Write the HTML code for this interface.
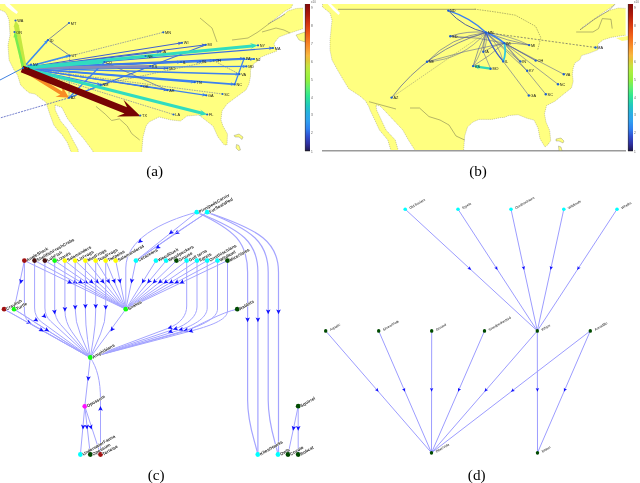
<!DOCTYPE html>
<html><head><meta charset="utf-8"><style>
html,body{margin:0;padding:0;background:#fff;width:640px;height:483px;overflow:hidden}
svg{display:block;will-change:transform}
</style></head><body>
<svg width="640" height="483" viewBox="0 0 640 483">
<defs><clipPath id="clipA"><rect x="0" y="4" width="303" height="148"/></clipPath><clipPath id="clipB"><rect x="322" y="4" width="303.6" height="146.6"/></clipPath><linearGradient id="turbo" x1="0" y1="1" x2="0" y2="0"><stop offset="0" stop-color="#201850"/><stop offset="0.048" stop-color="#3030a0"/><stop offset="0.1" stop-color="#3050d0"/><stop offset="0.15" stop-color="#3080f0"/><stop offset="0.205" stop-color="#30a0f0"/><stop offset="0.26" stop-color="#28b0e0"/><stop offset="0.308" stop-color="#20c8c0"/><stop offset="0.377" stop-color="#30e890"/><stop offset="0.43" stop-color="#60f070"/><stop offset="0.48" stop-color="#90f040"/><stop offset="0.534" stop-color="#a8f040"/><stop offset="0.58" stop-color="#c8e040"/><stop offset="0.617" stop-color="#e0c838"/><stop offset="0.65" stop-color="#f8b840"/><stop offset="0.72" stop-color="#f88a28"/><stop offset="0.788" stop-color="#f06018"/><stop offset="0.856" stop-color="#d83a10"/><stop offset="0.925" stop-color="#b01a0a"/><stop offset="1" stop-color="#800a0a"/></linearGradient></defs>
<g clip-path="url(#clipA)">
<polygon points="-2.0,2.0 293.0,2.0 293.0,4.0 291.0,8.0 285.0,11.0 280.0,15.0 275.0,19.0 268.0,24.0 281.0,17.0 288.0,11.0 296.0,8.5 305.0,8.0 305.0,28.0 296.0,31.0 287.0,34.0 279.0,37.0 275.0,42.0 274.0,44.0 277.0,51.0 266.0,55.0 260.0,57.6 258.3,60.7 253.6,63.8 250.5,70.0 250.5,76.2 249.0,84.0 246.0,90.0 235.0,98.0 227.0,104.0 222.0,111.0 221.0,120.0 223.0,126.0 227.5,134.0 227.0,145.0 224.0,144.7 218.0,137.0 213.0,126.0 204.0,119.0 199.0,115.0 187.0,116.0 180.6,121.0 171.0,120.0 159.0,117.0 149.0,122.0 146.0,126.0 143.0,137.0 141.5,154.0 93.0,154.0 78.0,154.0 72.0,154.0 70.0,149.2 67.3,142.5 61.9,134.4 57.9,130.4 53.8,125.0 49.8,114.2 45.8,102.0 42.0,99.5 35.0,94.0 29.5,93.0 25.6,90.0 20.6,85.0 17.5,75.0 14.0,70.0 9.0,60.0 8.0,45.0 10.0,35.0 9.0,20.0 7.0,15.0 5.0,12.0 -2.0,9.0" fill="#ffff80" stroke="#3a3a3a" stroke-width="0.45" stroke-opacity="0.55" stroke-dasharray="1.2,0.9"/>
<polygon points="4.0,2.0 7.5,2.0 18.0,12.0 16.5,14.0 12.0,11.0 6.0,6.0" fill="#fff" />
<polygon points="55.0,105.0 61.9,107.5 67.3,118.3 75.4,129.0 83.5,138.5 91.5,149.2 94.5,154.0 78.5,154.0 78.0,149.2 72.7,139.8 67.3,129.0 60.6,121.0 55.2,110.0" fill="#fff" stroke="#3a3a3a" stroke-width="0.45" stroke-opacity="0.55" stroke-dasharray="1.2,0.9"/>
</g>
<polygon points="616.0,38.0 628.0,36.0 628.0,40.0 622.0,41.0" fill="#ffff80" />
<g clip-path="url(#clipB)">
<polygon points="322.5,2.0 614.7,2.0 614.7,4.5 610.0,8.0 604.0,12.0 597.0,17.0 590.0,22.0 584.0,26.0 580.0,29.8 586.0,25.5 594.0,19.5 602.0,14.5 609.0,10.5 618.4,8.0 628.0,8.5 628.0,35.0 621.0,35.8 611.0,37.4 603.0,39.9 598.0,44.0 598.0,49.8 589.7,53.1 581.5,55.6 579.8,59.8 574.8,63.1 573.2,68.0 572.4,74.7 573.2,81.3 571.5,87.9 563.2,94.5 555.0,101.2 546.6,105.5 544.5,113.8 546.0,122.0 549.7,130.4 550.7,140.7 547.6,145.0 545.0,147.0 540.0,138.7 538.0,128.0 534.0,120.0 527.6,118.5 518.0,114.7 508.8,115.6 504.0,117.5 501.0,117.5 492.0,119.4 479.0,119.4 473.0,122.0 467.5,127.0 464.7,136.0 463.4,153.0 391.6,153.0 387.8,140.0 379.4,130.0 374.8,120.0 370.0,110.0 369.0,107.0 365.4,100.8 359.9,96.0 348.7,88.7 343.0,79.3 337.5,70.0 332.0,60.0 330.0,50.0 330.0,40.0 331.0,30.0 332.0,20.0 330.0,13.0 322.5,7.0" fill="#ffff80" stroke="#3a3a3a" stroke-width="0.45" stroke-opacity="0.55" stroke-dasharray="1.2,0.9"/>
<polygon points="326.0,2.0 329.0,2.0 340.0,13.0 338.5,15.0 333.0,10.0" fill="#fff" />
<polygon points="376.0,105.0 380.0,106.0 384.0,110.0 393.4,120.0 402.8,130.0 408.4,140.0 416.8,153.0 399.0,153.0 395.3,140.0 386.0,130.0 381.3,120.0 376.6,110.0" fill="#fff" stroke="#3a3a3a" stroke-width="0.45" stroke-opacity="0.55" stroke-dasharray="1.2,0.9"/>
</g>
<line x1="322" y1="150.8" x2="626" y2="150.8" stroke="#9a9a9a" stroke-width="1.5"/>
<polygon points="296.0,35.0 305.0,32.0 305.0,42.0 299.0,40.0" fill="#ffff80" stroke="#333" stroke-width="0.4" stroke-opacity="0.5"/>
<polygon points="234.0,135.5 239.0,134.0 243.0,137.0 242.0,139.5 239.0,137.0 235.0,137.0" fill="#ffff80" stroke="#333" stroke-width="0.4" stroke-opacity="0.6"/>
<polygon points="236.5,144.5 239.0,145.5 240.5,150.0 238.5,150.5 236.0,148.0" fill="#ffff80" stroke="#333" stroke-width="0.4" stroke-opacity="0.6"/>
<polygon points="556.0,139.0 561.0,138.0 564.0,141.0 563.0,143.0 559.0,141.0 556.0,141.0" fill="#ffff80" stroke="#333" stroke-width="0.4" stroke-opacity="0.6"/>
<polygon points="558.5,146.0 561.0,147.0 562.0,150.5 559.0,150.5" fill="#ffff80" stroke="#333" stroke-width="0.4" stroke-opacity="0.6"/>
<g fill="none" stroke="#505040" stroke-width="0.5" opacity="0.8">
<polyline points="96,106.4 105.3,114.2 111.6,120.5 119.4,118.9 127.2,126 131.9,133.8 139.7,140"/>
<polyline points="200,18 212,28 217,42"/>
<polyline points="232,40 248,38 258,32 270,23 285,14"/>
<polyline points="262,32 276,28 284,30 290,33"/>
</g>
<line x1="213.6" y1="60.6" x2="239.4" y2="74.2" stroke="#5060a8" stroke-width="0.55" stroke-dasharray="1.6,0.9"/>
<line x1="23.0" y1="68.0" x2="163.3" y2="32.3" stroke="#5060a8" stroke-width="0.55" stroke-dasharray="1.6,0.9"/>
<line x1="23.0" y1="68.0" x2="173.5" y2="114.5" stroke="#5060a8" stroke-width="0.55" stroke-dasharray="1.6,0.9"/>
<line x1="23.0" y1="68.0" x2="222.5" y2="94.0" stroke="#5060a8" stroke-width="0.55" stroke-dasharray="1.6,0.9"/>
<line x1="23.0" y1="68.0" x2="141.3" y2="86.0" stroke="#5060a8" stroke-width="0.55" stroke-dasharray="1.6,0.9"/>
<line x1="100.8" y1="84.7" x2="213.6" y2="60.6" stroke="#5060a8" stroke-width="0.55" stroke-dasharray="1.6,0.9"/>
<line x1="48.0" y1="40.0" x2="69.0" y2="23.0" stroke="#4858a8" stroke-width="0.7"/>
<line x1="48.0" y1="40.0" x2="69.7" y2="55.6" stroke="#4858a8" stroke-width="0.7"/>
<line x1="69.7" y1="55.6" x2="69" y2="97.8" stroke="#6070b0" stroke-width="0.7" stroke-dasharray="2,1"/>
<line x1="23" y1="68" x2="0" y2="80" stroke="#4080e0" stroke-width="1"/>
<line x1="69" y1="97.8" x2="0" y2="118" stroke="#5060c0" stroke-width="0.8" stroke-dasharray="2,1"/>
<line x1="23.0" y1="68.0" x2="48.0" y2="40.0" stroke="#3c8cf0" stroke-width="1.6"/>
<polygon points="48.0,40.0 46.6,44.1 45.9,42.4 44.0,41.8" fill="#3c8cf0"/>
<line x1="23.0" y1="68.0" x2="69.7" y2="55.6" stroke="#3c8cf0" stroke-width="1.6"/>
<polygon points="69.7,55.6 66.3,58.3 66.6,56.4 65.4,54.9" fill="#3c8cf0"/>
<line x1="23.0" y1="68.0" x2="145.6" y2="56.0" stroke="#3c78e0" stroke-width="1.2"/>
<polygon points="145.6,56.0 141.8,58.1 142.4,56.3 141.4,54.6" fill="#3c78e0"/>
<line x1="23.0" y1="68.0" x2="160.6" y2="51.6" stroke="#3c6cd8" stroke-width="1.2"/>
<polygon points="160.6,51.6 156.8,53.8 157.4,52.0 156.4,50.3" fill="#3c6cd8"/>
<line x1="23.0" y1="68.0" x2="205.8" y2="44.8" stroke="#4060d0" stroke-width="1.0"/>
<polygon points="205.8,44.8 202.1,47.0 202.6,45.2 201.6,43.6" fill="#4060d0"/>
<line x1="23.0" y1="68.0" x2="182.0" y2="42.8" stroke="#4060d0" stroke-width="1.0"/>
<polygon points="182.0,42.8 178.3,45.2 178.8,43.3 177.8,41.7" fill="#4060d0"/>
<line x1="23.0" y1="68.0" x2="273.0" y2="48.0" stroke="#3c6ce0" stroke-width="1.2"/>
<polygon points="273.0,48.0 269.2,50.1 269.8,48.3 268.9,46.6" fill="#3c6ce0"/>
<line x1="23.0" y1="68.0" x2="181.0" y2="62.0" stroke="#3c80f0" stroke-width="1.6"/>
<polygon points="181.0,62.0 177.1,63.9 177.8,62.1 176.9,60.4" fill="#3c80f0"/>
<line x1="23.0" y1="68.0" x2="200.3" y2="61.7" stroke="#3c70e0" stroke-width="1.2"/>
<polygon points="200.3,61.7 196.4,63.6 197.1,61.8 196.2,60.1" fill="#3c70e0"/>
<line x1="23.0" y1="68.0" x2="213.6" y2="60.6" stroke="#3c70e0" stroke-width="1.2"/>
<polygon points="213.6,60.6 209.7,62.5 210.4,60.7 209.5,59.0" fill="#3c70e0"/>
<line x1="23.0" y1="68.0" x2="244.0" y2="58.6" stroke="#3c70e0" stroke-width="1.6"/>
<polygon points="244.0,58.6 240.1,60.5 240.8,58.7 239.9,57.0" fill="#3c70e0"/>
<line x1="23.0" y1="68.0" x2="254.0" y2="59.0" stroke="#3c80f0" stroke-width="1.2"/>
<polygon points="254.0,59.0 250.1,60.9 250.8,59.1 249.9,57.4" fill="#3c80f0"/>
<line x1="23.0" y1="68.0" x2="167.5" y2="68.3" stroke="#4070d0" stroke-width="1.2"/>
<polygon points="167.5,68.3 163.5,70.0 164.3,68.3 163.5,66.5" fill="#4070d0"/>
<line x1="23.0" y1="68.0" x2="246.4" y2="66.4" stroke="#3c80f0" stroke-width="1.2"/>
<polygon points="246.4,66.4 242.4,68.2 243.2,66.4 242.4,64.7" fill="#3c80f0"/>
<line x1="23.0" y1="68.0" x2="239.4" y2="74.2" stroke="#3c80f0" stroke-width="1.6"/>
<polygon points="239.4,74.2 235.4,75.8 236.2,74.1 235.5,72.3" fill="#3c80f0"/>
<line x1="23.0" y1="68.0" x2="194.8" y2="82.2" stroke="#3c80f0" stroke-width="1.6"/>
<polygon points="194.8,82.2 190.7,83.6 191.6,81.9 191.0,80.1" fill="#3c80f0"/>
<line x1="23.0" y1="68.0" x2="234.7" y2="84.4" stroke="#3c80f0" stroke-width="1.6"/>
<polygon points="234.7,84.4 230.6,85.8 231.5,84.2 230.8,82.3" fill="#3c80f0"/>
<line x1="23.0" y1="68.0" x2="167.5" y2="90.2" stroke="#3c70e0" stroke-width="1.2"/>
<polygon points="167.5,90.2 163.3,91.3 164.3,89.7 163.8,87.9" fill="#3c70e0"/>
<line x1="23.0" y1="68.0" x2="206.3" y2="95.3" stroke="#3c80f0" stroke-width="1.2"/>
<polygon points="206.3,95.3 202.1,96.4 203.1,94.8 202.6,93.0" fill="#3c80f0"/>
<line x1="23.0" y1="68.0" x2="100.8" y2="84.7" stroke="#4080f0" stroke-width="1.2"/>
<polygon points="100.8,84.7 96.5,85.6 97.7,84.0 97.3,82.1" fill="#4080f0"/>
<line x1="23.0" y1="68.0" x2="31.0" y2="64.7" stroke="#3c80f0" stroke-width="1.2"/>
<polygon points="31.0,64.7 28.0,67.8 28.0,65.9 26.6,64.6" fill="#3c80f0"/>
<line x1="69.0" y1="97.8" x2="104.4" y2="62.0" stroke="#3c80f0" stroke-width="1.3"/>
<line x1="244.0" y1="58.6" x2="234.7" y2="84.4" stroke="#3c80f0" stroke-width="1.3"/>
<line x1="69.0" y1="97.8" x2="205.8" y2="44.8" stroke="#3c70e0" stroke-width="1.1"/>
<line x1="104.4" y1="62.0" x2="167.5" y2="90.2" stroke="#5060b0" stroke-width="0.7"/>
<line x1="69.0" y1="97.8" x2="100.8" y2="84.7" stroke="#3c80f0" stroke-width="1.0"/>
<line x1="23.0" y1="68.0" x2="150.3" y2="66.2" stroke="#8a8ab8" stroke-width="2.5"/>
<polygon points="26.5,66.6 19.0,26.0 19.5,25.9 15.5,20.5 13.6,26.9 14.1,26.9 21.5,67.4" fill="#c4e840"/>
<polygon points="24.2,66.7 16.9,36.6 17.9,36.3 14.5,32.0 13.5,37.4 14.5,37.2 21.8,67.3" fill="#78ec50"/>
<polygon points="23.1,69.5 101.5,63.7 99.6,64.9 104.4,62.0 99.2,59.9 101.3,60.7 22.9,66.5" fill="#30dcc0"/>
<polygon points="23.1,69.5 252.2,47.4 250.3,49.1 258.0,45.3 249.7,43.1 251.9,44.4 22.9,66.5" fill="#30dcc0"/>
<polygon points="22.6,69.6 201.0,114.6 198.6,115.7 207.2,114.5 200.2,109.4 201.8,111.5 23.4,66.4" fill="#30dcc0"/>
<polygon points="23.0,71.6 60.3,94.7 55.5,96.8 69.0,97.8 62.1,86.2 62.3,91.5 25.0,68.4" fill="#f88c24"/>
<polygon points="20.7,72.2 124.5,113.5 116.8,116.5 140.6,116.3 123.5,99.8 127.0,107.2 23.3,65.8" fill="#780404"/>
<circle cx="15.5" cy="20.5" r="1.1" fill="#1f5fcf"/>
<text x="17.3" y="22.0" font-family="Liberation Sans" font-size="3.8" fill="#151515">WA</text>
<circle cx="14.5" cy="32.0" r="1.1" fill="#1f5fcf"/>
<text x="16.3" y="33.5" font-family="Liberation Sans" font-size="3.8" fill="#151515">OR</text>
<circle cx="69.0" cy="23.0" r="1.1" fill="#1f5fcf"/>
<text x="70.8" y="24.5" font-family="Liberation Sans" font-size="3.8" fill="#151515">MT</text>
<circle cx="48.0" cy="40.0" r="1.1" fill="#1f5fcf"/>
<text x="49.8" y="41.5" font-family="Liberation Sans" font-size="3.8" fill="#151515">ID</text>
<circle cx="69.7" cy="55.6" r="1.1" fill="#1f5fcf"/>
<text x="71.5" y="57.1" font-family="Liberation Sans" font-size="3.8" fill="#151515">UT</text>
<circle cx="31.0" cy="64.7" r="1.1" fill="#1f5fcf"/>
<text x="32.8" y="66.2" font-family="Liberation Sans" font-size="3.8" fill="#151515">NV</text>
<circle cx="23.0" cy="68.0" r="1.1" fill="#1f5fcf"/>
<text x="24.8" y="69.5" font-family="Liberation Sans" font-size="3.8" fill="#151515">CA</text>
<circle cx="104.4" cy="62.0" r="1.1" fill="#1f5fcf"/>
<text x="106.2" y="63.5" font-family="Liberation Sans" font-size="3.8" fill="#151515">CO</text>
<circle cx="100.8" cy="84.7" r="1.1" fill="#1f5fcf"/>
<text x="102.6" y="86.2" font-family="Liberation Sans" font-size="3.8" fill="#151515">NM</text>
<circle cx="69.0" cy="97.8" r="1.1" fill="#1f5fcf"/>
<text x="70.8" y="99.3" font-family="Liberation Sans" font-size="3.8" fill="#151515">AZ</text>
<circle cx="163.3" cy="32.3" r="1.1" fill="#1f5fcf"/>
<text x="165.1" y="33.8" font-family="Liberation Sans" font-size="3.8" fill="#151515">MN</text>
<circle cx="182.0" cy="42.8" r="1.1" fill="#1f5fcf"/>
<text x="183.8" y="44.3" font-family="Liberation Sans" font-size="3.8" fill="#151515">WI</text>
<circle cx="160.6" cy="51.6" r="1.1" fill="#1f5fcf"/>
<text x="162.4" y="53.1" font-family="Liberation Sans" font-size="3.8" fill="#151515">IA</text>
<circle cx="145.6" cy="56.0" r="1.1" fill="#1f5fcf"/>
<text x="147.4" y="57.5" font-family="Liberation Sans" font-size="3.8" fill="#151515">NE</text>
<circle cx="150.3" cy="66.2" r="1.1" fill="#1f5fcf"/>
<text x="152.1" y="67.8" font-family="Liberation Sans" font-size="3.8" fill="#151515">KS</text>
<circle cx="167.5" cy="68.3" r="1.1" fill="#1f5fcf"/>
<text x="169.3" y="69.8" font-family="Liberation Sans" font-size="3.8" fill="#151515">MO</text>
<circle cx="181.0" cy="62.0" r="1.1" fill="#1f5fcf"/>
<text x="182.8" y="63.5" font-family="Liberation Sans" font-size="3.8" fill="#151515">IL</text>
<circle cx="194.8" cy="82.2" r="1.1" fill="#1f5fcf"/>
<text x="196.6" y="83.7" font-family="Liberation Sans" font-size="3.8" fill="#151515">TN</text>
<circle cx="141.3" cy="86.0" r="1.1" fill="#1f5fcf"/>
<text x="143.1" y="87.5" font-family="Liberation Sans" font-size="3.8" fill="#151515">OK</text>
<circle cx="167.5" cy="90.2" r="1.1" fill="#1f5fcf"/>
<text x="169.3" y="91.7" font-family="Liberation Sans" font-size="3.8" fill="#151515">AR</text>
<circle cx="205.8" cy="44.8" r="1.1" fill="#1f5fcf"/>
<text x="207.6" y="46.3" font-family="Liberation Sans" font-size="3.8" fill="#151515">MI</text>
<circle cx="258.0" cy="45.3" r="1.1" fill="#1f5fcf"/>
<text x="259.8" y="46.8" font-family="Liberation Sans" font-size="3.8" fill="#151515">NY</text>
<circle cx="273.0" cy="48.0" r="1.1" fill="#1f5fcf"/>
<text x="274.8" y="49.5" font-family="Liberation Sans" font-size="3.8" fill="#151515">MA</text>
<circle cx="200.3" cy="61.7" r="1.1" fill="#1f5fcf"/>
<text x="202.1" y="63.2" font-family="Liberation Sans" font-size="3.8" fill="#151515">IN</text>
<circle cx="213.6" cy="60.6" r="1.1" fill="#1f5fcf"/>
<text x="215.4" y="62.1" font-family="Liberation Sans" font-size="3.8" fill="#151515">OH</text>
<circle cx="244.0" cy="58.6" r="1.1" fill="#1f5fcf"/>
<text x="245.8" y="60.1" font-family="Liberation Sans" font-size="3.8" fill="#151515">PA</text>
<circle cx="254.0" cy="59.0" r="1.1" fill="#1f5fcf"/>
<text x="255.8" y="60.5" font-family="Liberation Sans" font-size="3.8" fill="#151515">NJ</text>
<circle cx="246.4" cy="66.4" r="1.1" fill="#1f5fcf"/>
<text x="248.2" y="67.9" font-family="Liberation Sans" font-size="3.8" fill="#151515">MD</text>
<circle cx="239.4" cy="74.2" r="1.1" fill="#1f5fcf"/>
<text x="241.2" y="75.7" font-family="Liberation Sans" font-size="3.8" fill="#151515">VA</text>
<circle cx="234.7" cy="84.4" r="1.1" fill="#1f5fcf"/>
<text x="236.5" y="85.9" font-family="Liberation Sans" font-size="3.8" fill="#151515">NC</text>
<circle cx="222.5" cy="94.0" r="1.1" fill="#1f5fcf"/>
<text x="224.3" y="95.5" font-family="Liberation Sans" font-size="3.8" fill="#151515">SC</text>
<circle cx="206.3" cy="95.3" r="1.1" fill="#1f5fcf"/>
<text x="208.1" y="96.8" font-family="Liberation Sans" font-size="3.8" fill="#151515">GA</text>
<circle cx="140.3" cy="115.5" r="1.1" fill="#1f5fcf"/>
<text x="142.1" y="117.0" font-family="Liberation Sans" font-size="3.8" fill="#151515">TX</text>
<circle cx="173.5" cy="114.5" r="1.1" fill="#1f5fcf"/>
<text x="175.3" y="116.0" font-family="Liberation Sans" font-size="3.8" fill="#151515">LA</text>
<circle cx="207.2" cy="114.5" r="1.1" fill="#1f5fcf"/>
<text x="209.0" y="116.0" font-family="Liberation Sans" font-size="3.8" fill="#151515">FL</text>
<g fill="none" stroke="#505040" stroke-width="0.5" opacity="0.85">
<polyline points="474.7,9.1 497,12.2 515.4,15.2 535.7,26.4 540.8,37.6 537.7,49.8" stroke-dasharray="1.5,1"/>
<polyline points="580,29.8 586,25.5 594,19.5 602,14.5 609,10.5 614.7,4.5"/>
<polyline points="576.2,32 593,32 598.5,28.6 602.3,18.6 611,19.3 612.2,28.6"/>
<polyline points="369,101.7 396,109"/>
<polyline points="410,108 419.5,108 429,116.6 440,120 449,125 456,136 464.7,140"/>
</g>
<line x1="338" y1="9.3" x2="476" y2="9.3" stroke="#9c9c60" stroke-width="0.9"/>
<path d="M485.9,32.5 Q467.7,30.4 450.3,36.2" fill="none" stroke="#505a98" stroke-width="0.6"/>
<path d="M485.9,32.5 Q468.7,40.3 450.3,36.2" fill="none" stroke="#505a98" stroke-width="0.5"/>
<path d="M485.9,32.5 Q451.1,36.4 427.0,61.8" fill="none" stroke="#505a98" stroke-width="0.6"/>
<path d="M485.9,32.5 Q462.7,59.7 427.0,61.8" fill="none" stroke="#505a98" stroke-width="0.5"/>
<path d="M485.9,32.5 Q483.6,42.0 483.3,51.8" fill="none" stroke="#505a98" stroke-width="0.6"/>
<path d="M485.9,32.5 Q487.6,42.6 483.3,51.8" fill="none" stroke="#505a98" stroke-width="0.5"/>
<path d="M485.9,32.5 Q507.0,40.7 529.2,45.1" fill="none" stroke="#505a98" stroke-width="0.6"/>
<path d="M485.9,32.5 Q508.7,35.0 529.2,45.1" fill="none" stroke="#505a98" stroke-width="0.5"/>
<path d="M485.9,32.5 Q477.6,48.6 473.1,66.1" fill="none" stroke="#505a98" stroke-width="0.6"/>
<path d="M485.9,32.5 Q483.2,50.7 473.1,66.1" fill="none" stroke="#505a98" stroke-width="0.5"/>
<path d="M485.9,32.5 Q492.0,48.5 503.2,61.4" fill="none" stroke="#505a98" stroke-width="0.6"/>
<path d="M485.9,32.5 Q498.8,44.4 503.2,61.4" fill="none" stroke="#505a98" stroke-width="0.5"/>
<path d="M485.9,32.5 Q506.6,51.6 527.2,70.7" fill="none" stroke="#505a98" stroke-width="0.55"/>
<path d="M485.9,32.5 Q510.8,46.5 535.7,60.6" fill="none" stroke="#505a98" stroke-width="0.55"/>
<path d="M485.9,32.5 Q503.1,47.0 520.4,61.4" fill="none" stroke="#505a98" stroke-width="0.55"/>
<path d="M504.2,43.1 Q477.6,36.7 450.3,36.2" fill="none" stroke="#505a98" stroke-width="0.55"/>
<path d="M504.2,43.1 Q465.1,50.5 427.0,61.8" fill="none" stroke="#505a98" stroke-width="0.55"/>
<path d="M504.2,43.1 Q516.8,43.1 529.2,45.1" fill="none" stroke="#505a98" stroke-width="0.55"/>
<path d="M504.2,43.1 Q493.0,45.6 483.3,51.8" fill="none" stroke="#505a98" stroke-width="0.55"/>
<path d="M504.2,43.1 Q489.8,56.2 473.1,66.1" fill="none" stroke="#505a98" stroke-width="0.55"/>
<path d="M504.2,43.1 Q534.0,58.7 563.8,74.3" fill="none" stroke="#505a98" stroke-width="0.55"/>
<path d="M504.2,43.1 Q531.1,63.7 558.0,84.3" fill="none" stroke="#505a98" stroke-width="0.55"/>
<path d="M504.2,43.1 Q525.0,68.7 545.8,94.3" fill="none" stroke="#505a98" stroke-width="0.55"/>
<path d="M504.2,43.1 Q512.3,52.2 520.4,61.4" fill="none" stroke="#505a98" stroke-width="0.55"/>
<path d="M504.2,43.1 Q520.0,51.9 535.7,60.6" fill="none" stroke="#505a98" stroke-width="0.55"/>
<path d="M485.9,32.5 Q428.0,49.4 391.6,97.6" fill="none" stroke="#505a98" stroke-width="0.7"/>
<path d="M485.9,32.5 Q438.8,65.0 391.6,97.6" fill="none" stroke="#7a7a70" stroke-width="0.5" stroke-dasharray="1.5,1"/>
<path d="M485.9,32.5 Q540.7,40.0 595.5,47.5" fill="none" stroke="#5a5a60" stroke-width="0.7" stroke-dasharray="2,1.5"/>
<path d="M485.9,32.5 Q463.6,27.6 448.3,10.6" fill="none" stroke="#4050a0" stroke-width="0.9"/>
<path d="M485.9,32.5 Q469.6,17.2 448.3,10.6" fill="none" stroke="#3c80f0" stroke-width="1.5"/>
<path d="M485.9,32.5 Q496.1,36.1 504.2,43.1" fill="none" stroke="#3c80f0" stroke-width="1.8"/>
<path d="M485.9,32.5 Q492.0,48.5 503.2,61.4" fill="none" stroke="#4060c8" stroke-width="1.2"/>
<path d="M504.2,43.1 Q506.7,52.4 503.2,61.4" fill="none" stroke="#30c8e0" stroke-width="1.8"/>
<path d="M483.3,51.8 Q487.0,60.2 490.6,68.7" fill="none" stroke="#505a98" stroke-width="0.5"/>
<path d="M503.2,61.4 Q516.0,78.5 528.8,95.5" fill="none" stroke="#505a98" stroke-width="0.55"/>
<polygon points="490.8,67.6 478.2,65.7 480.4,64.4 473.1,66.1 479.6,69.8 477.9,67.9 490.4,69.8" fill="#30d8b8"/>
<circle cx="448.3" cy="10.6" r="1.2" fill="#1f5fcf"/>
<text x="450.1" y="12.1" font-family="Liberation Sans" font-size="3.8" fill="#151515">ND</text>
<circle cx="485.9" cy="32.5" r="1.2" fill="#1f5fcf"/>
<text x="487.7" y="34.0" font-family="Liberation Sans" font-size="3.8" fill="#151515">MN</text>
<circle cx="450.3" cy="36.2" r="1.2" fill="#1f5fcf"/>
<text x="452.1" y="37.7" font-family="Liberation Sans" font-size="3.8" fill="#151515">SD</text>
<circle cx="504.2" cy="43.1" r="1.2" fill="#1f5fcf"/>
<text x="506.0" y="44.6" font-family="Liberation Sans" font-size="3.8" fill="#151515">WI</text>
<circle cx="529.2" cy="45.1" r="1.2" fill="#1f5fcf"/>
<text x="531.0" y="46.6" font-family="Liberation Sans" font-size="3.8" fill="#151515">MI</text>
<circle cx="483.3" cy="51.8" r="1.2" fill="#1f5fcf"/>
<text x="485.1" y="53.3" font-family="Liberation Sans" font-size="3.8" fill="#151515">IA</text>
<circle cx="503.2" cy="61.4" r="1.2" fill="#1f5fcf"/>
<text x="505.0" y="62.9" font-family="Liberation Sans" font-size="3.8" fill="#151515">IL</text>
<circle cx="520.4" cy="61.4" r="1.2" fill="#1f5fcf"/>
<text x="522.2" y="62.9" font-family="Liberation Sans" font-size="3.8" fill="#151515">IN</text>
<circle cx="535.7" cy="60.6" r="1.2" fill="#1f5fcf"/>
<text x="537.5" y="62.1" font-family="Liberation Sans" font-size="3.8" fill="#151515">OH</text>
<circle cx="527.2" cy="70.7" r="1.2" fill="#1f5fcf"/>
<text x="529.0" y="72.2" font-family="Liberation Sans" font-size="3.8" fill="#151515">KY</text>
<circle cx="473.1" cy="66.1" r="1.2" fill="#1f5fcf"/>
<text x="474.9" y="67.6" font-family="Liberation Sans" font-size="3.8" fill="#151515">KS</text>
<circle cx="490.6" cy="68.7" r="1.2" fill="#1f5fcf"/>
<text x="492.4" y="70.2" font-family="Liberation Sans" font-size="3.8" fill="#151515">MO</text>
<circle cx="427.0" cy="61.8" r="1.2" fill="#1f5fcf"/>
<text x="428.8" y="63.2" font-family="Liberation Sans" font-size="3.8" fill="#151515">NE</text>
<circle cx="391.6" cy="97.6" r="1.2" fill="#1f5fcf"/>
<text x="393.4" y="99.1" font-family="Liberation Sans" font-size="3.8" fill="#151515">AZ</text>
<circle cx="595.5" cy="47.5" r="1.2" fill="#1f5fcf"/>
<text x="597.3" y="49.0" font-family="Liberation Sans" font-size="3.8" fill="#151515">MA</text>
<circle cx="563.8" cy="74.3" r="1.2" fill="#1f5fcf"/>
<text x="565.6" y="75.8" font-family="Liberation Sans" font-size="3.8" fill="#151515">VA</text>
<circle cx="558.0" cy="84.3" r="1.2" fill="#1f5fcf"/>
<text x="559.8" y="85.8" font-family="Liberation Sans" font-size="3.8" fill="#151515">NC</text>
<circle cx="528.8" cy="95.5" r="1.2" fill="#1f5fcf"/>
<text x="530.6" y="97.0" font-family="Liberation Sans" font-size="3.8" fill="#151515">GA</text>
<circle cx="545.8" cy="94.3" r="1.2" fill="#1f5fcf"/>
<text x="547.6" y="95.8" font-family="Liberation Sans" font-size="3.8" fill="#151515">SC</text>
<line x1="24.4" y1="260.6" x2="125.8" y2="309.2" stroke="#a4a4ff" stroke-width="1.0"/>
<polygon points="72.2,283.5 66.8,283.5 68.7,281.8 68.8,279.3" fill="#1010ff"/>
<line x1="34.6" y1="260.6" x2="125.8" y2="309.2" stroke="#a4a4ff" stroke-width="1.0"/>
<polygon points="77.6,283.5 72.2,283.3 74.2,281.7 74.4,279.2" fill="#1010ff"/>
<line x1="44.9" y1="260.6" x2="125.8" y2="309.2" stroke="#a4a4ff" stroke-width="1.0"/>
<polygon points="83.0,283.5 77.7,283.0 79.7,281.5 80.1,279.0" fill="#1010ff"/>
<line x1="54.7" y1="260.6" x2="125.8" y2="309.2" stroke="#a4a4ff" stroke-width="1.0"/>
<polygon points="88.2,283.5 82.9,282.7 85.1,281.3 85.5,278.9" fill="#1010ff"/>
<line x1="64.9" y1="260.6" x2="125.8" y2="309.2" stroke="#a4a4ff" stroke-width="1.0"/>
<polygon points="93.6,283.5 88.4,282.3 90.6,281.1 91.3,278.7" fill="#1010ff"/>
<line x1="75.2" y1="260.6" x2="125.8" y2="309.2" stroke="#a4a4ff" stroke-width="1.0"/>
<polygon points="99.0,283.5 94.0,281.8 96.3,280.9 97.2,278.5" fill="#1010ff"/>
<line x1="85.4" y1="260.6" x2="125.8" y2="309.2" stroke="#a4a4ff" stroke-width="1.0"/>
<polygon points="104.4,283.5 99.6,281.3 102.0,280.6 103.1,278.3" fill="#1010ff"/>
<line x1="95.7" y1="260.6" x2="125.8" y2="309.2" stroke="#a4a4ff" stroke-width="1.0"/>
<polygon points="109.9,283.5 105.4,280.6 107.9,280.3 109.3,278.2" fill="#1010ff"/>
<line x1="105.7" y1="260.6" x2="125.8" y2="309.2" stroke="#a4a4ff" stroke-width="1.0"/>
<polygon points="115.2,283.5 111.2,279.9 113.7,280.0 115.5,278.2" fill="#1010ff"/>
<line x1="115.7" y1="260.6" x2="125.8" y2="309.2" stroke="#a4a4ff" stroke-width="1.0"/>
<polygon points="120.5,283.5 117.2,279.3 119.7,279.8 121.7,278.3" fill="#1010ff"/>
<line x1="136.0" y1="260.6" x2="125.8" y2="309.2" stroke="#a4a4ff" stroke-width="1.0"/>
<polygon points="131.2,283.5 129.9,278.3 132.0,279.8 134.4,279.3" fill="#1010ff"/>
<line x1="156.0" y1="260.6" x2="125.8" y2="309.2" stroke="#a4a4ff" stroke-width="1.0"/>
<polygon points="141.8,283.5 142.4,278.2 143.8,280.3 146.3,280.6" fill="#1010ff"/>
<line x1="166.2" y1="260.6" x2="125.8" y2="309.2" stroke="#a4a4ff" stroke-width="1.0"/>
<polygon points="147.2,283.5 148.5,278.3 149.6,280.6 152.0,281.3" fill="#1010ff"/>
<line x1="176.5" y1="260.6" x2="125.8" y2="309.2" stroke="#a4a4ff" stroke-width="1.0"/>
<polygon points="152.6,283.5 154.5,278.5 155.4,280.9 157.7,281.8" fill="#1010ff"/>
<line x1="186.7" y1="260.6" x2="125.8" y2="309.2" stroke="#a4a4ff" stroke-width="1.0"/>
<polygon points="158.0,283.5 160.3,278.7 161.0,281.1 163.2,282.3" fill="#1010ff"/>
<line x1="197.0" y1="260.6" x2="125.8" y2="309.2" stroke="#a4a4ff" stroke-width="1.0"/>
<polygon points="163.5,283.5 166.1,278.9 166.6,281.3 168.7,282.7" fill="#1010ff"/>
<line x1="207.2" y1="260.6" x2="125.8" y2="309.2" stroke="#a4a4ff" stroke-width="1.0"/>
<polygon points="168.9,283.5 171.8,279.1 172.1,281.5 174.2,283.0" fill="#1010ff"/>
<line x1="217.5" y1="260.6" x2="125.8" y2="309.2" stroke="#a4a4ff" stroke-width="1.0"/>
<polygon points="174.3,283.5 177.5,279.2 177.7,281.7 179.6,283.3" fill="#1010ff"/>
<line x1="227.5" y1="260.6" x2="125.8" y2="309.2" stroke="#a4a4ff" stroke-width="1.0"/>
<polygon points="179.6,283.5 182.9,279.3 183.0,281.9 184.9,283.5" fill="#1010ff"/>
<path d="M24.4,260.6 L24.4,311.0 Q24.4,320.0 32.2,324.5 L90.3,357.5" fill="none" stroke="#a4a4ff" stroke-width="1.0"/>
<polygon points="31.3,324.0 26.0,323.6 28.0,322.1 28.3,319.6" fill="#1010ff"/>
<path d="M34.6,260.6 L34.6,308.0 Q34.6,317.0 41.9,322.3 L90.3,357.5" fill="none" stroke="#a4a4ff" stroke-width="1.0"/>
<polygon points="38.3,321.5 33.0,320.7 35.2,319.3 35.7,316.9" fill="#1010ff"/>
<path d="M44.9,260.6 L44.9,308.0 Q44.9,316.0 50.8,321.4 L90.3,357.5" fill="none" stroke="#a4a4ff" stroke-width="1.0"/>
<polygon points="46.3,318.0 41.2,316.5 43.5,315.5 44.3,313.1" fill="#1010ff"/>
<path d="M54.7,260.6 L54.7,309.0 Q54.7,318.0 60.7,324.7 L90.3,357.5" fill="none" stroke="#a4a4ff" stroke-width="1.0"/>
<polygon points="54.9,314.5 52.0,310.0 54.4,310.7 56.6,309.5" fill="#1010ff"/>
<path d="M64.9,260.6 L64.9,310.0 Q64.9,322.0 71.9,331.8 L90.3,357.5" fill="none" stroke="#a4a4ff" stroke-width="1.0"/>
<polygon points="64.9,311.8 62.6,307.0 64.9,308.0 67.2,307.0" fill="#1010ff"/>
<path d="M75.2,260.6 L75.2,309.0 Q75.2,322.0 80.3,334.0 L90.3,357.5" fill="none" stroke="#a4a4ff" stroke-width="1.0"/>
<polygon points="75.2,309.8 72.9,305.0 75.2,306.0 77.5,305.0" fill="#1010ff"/>
<path d="M85.4,260.6 L85.4,310.0 Q85.4,325.0 87.6,339.8 L90.3,357.5" fill="none" stroke="#a4a4ff" stroke-width="1.0"/>
<polygon points="85.4,308.7 83.1,303.9 85.4,304.9 87.7,303.9" fill="#1010ff"/>
<path d="M95.7,260.6 L95.7,310.0 Q95.7,325.0 93.2,339.8 L90.3,357.5" fill="none" stroke="#a4a4ff" stroke-width="1.0"/>
<polygon points="95.7,308.7 93.4,303.9 95.7,304.9 98.0,303.9" fill="#1010ff"/>
<path d="M105.7,260.6 L105.7,309.0 Q105.7,322.0 100.5,333.9 L90.3,357.5" fill="none" stroke="#a4a4ff" stroke-width="1.0"/>
<polygon points="105.7,309.8 103.4,305.0 105.7,306.0 108.0,305.0" fill="#1010ff"/>
<line x1="4.1" y1="309.2" x2="90.3" y2="357.5" stroke="#a4a4ff" stroke-width="1.0"/>
<line x1="5.1" y1="309.7" x2="90.3" y2="357.5" stroke="#a4a4ff" stroke-width="0.8"/>
<polygon points="43.8,331.4 38.4,331.1 40.4,329.6 40.7,327.1" fill="#1010ff"/>
<line x1="14.1" y1="309.2" x2="90.3" y2="357.5" stroke="#a4a4ff" stroke-width="1.0"/>
<line x1="15.1" y1="309.7" x2="90.3" y2="357.5" stroke="#a4a4ff" stroke-width="0.8"/>
<polygon points="49.2,331.4 43.9,330.8 45.9,329.4 46.3,326.9" fill="#1010ff"/>
<line x1="24.4" y1="260.6" x2="14.1" y2="309.2" stroke="#a4a4ff" stroke-width="1.0"/>
<polygon points="20.5,284.0 19.2,278.8 21.3,280.3 23.7,279.8" fill="#1010ff"/>
<path d="M186.7,260.6 L186.7,306.0 C186.7,315.0 181.4,323.3 167.6,328.5 L90.3,357.5" fill="none" stroke="#a4a4ff" stroke-width="1.0"/>
<polygon points="167.6,328.5 171.3,324.7 171.2,327.2 172.9,329.0" fill="#1010ff"/>
<path d="M197.0,260.6 L197.0,307.0 C197.0,316.0 188.6,324.3 173.0,329.6 L90.3,357.5" fill="none" stroke="#a4a4ff" stroke-width="1.0"/>
<polygon points="173.0,329.6 176.8,325.9 176.6,328.4 178.3,330.2" fill="#1010ff"/>
<path d="M207.2,260.6 L207.2,308.0 C207.2,317.0 195.9,324.9 178.5,330.3 L90.3,357.5" fill="none" stroke="#a4a4ff" stroke-width="1.0"/>
<polygon points="178.5,330.3 182.4,326.7 182.1,329.2 183.8,331.1" fill="#1010ff"/>
<path d="M217.5,260.6 L217.5,309.0 C217.5,318.0 202.9,325.4 183.4,331.0 L90.3,357.5" fill="none" stroke="#a4a4ff" stroke-width="1.0"/>
<polygon points="183.4,331.0 187.4,327.5 187.1,330.0 188.6,331.9" fill="#1010ff"/>
<path d="M227.5,260.6 L227.5,311.0 C227.5,320.0 209.7,326.1 188.3,331.7 L90.3,357.5" fill="none" stroke="#a4a4ff" stroke-width="1.0"/>
<polygon points="188.3,331.7 192.4,328.3 192.0,330.7 193.5,332.7" fill="#1010ff"/>
<path d="M237.3,309.2 C222,312 200,325 186,331 L90.3,357.5" fill="none" stroke="#a4a4ff" stroke-width="1.0"/>
<polygon points="168.0,332.5 171.7,328.7 171.6,331.2 173.3,333.0" fill="#1010ff"/>
<line x1="125.8" y1="309.2" x2="90.3" y2="357.5" stroke="#a4a4ff" stroke-width="1.0"/>
<polygon points="110.5,331.5 111.5,326.3 112.8,328.4 115.2,329.0" fill="#1010ff"/>
<line x1="196.8" y1="212.2" x2="136.0" y2="260.6" stroke="#a4a4ff" stroke-width="1.0"/>
<polygon points="168.9,234.2 171.2,229.4 171.9,231.8 174.1,233.0" fill="#1010ff"/>
<line x1="207.2" y1="212.2" x2="136.0" y2="260.6" stroke="#a4a4ff" stroke-width="1.0"/>
<polygon points="174.6,234.2 177.3,229.6 177.7,232.1 179.9,233.4" fill="#1010ff"/>
<path d="M207.2,212.2 Q170,236 136,261" fill="none" stroke="#a4a4ff" stroke-width="1.0"/>
<polygon points="155.6,248.7 158.3,244.1 158.8,246.6 160.9,248.0" fill="#1010ff"/>
<path d="M196.8,212.2 C160,222 126,240 125.8,268 L125.8,309.2" fill="none" stroke="#a4a4ff" stroke-width="1.0"/>
<polygon points="138.0,243.0 140.3,238.2 141.0,240.6 143.2,241.8" fill="#1010ff"/>
<path d="M196.8,212.2 C234.9,230.2 247.6,242.2 247.6,272.2 L247.6,400 C247.6,425 254.8,440 257.8,454.5" fill="none" stroke="#a4a4ff" stroke-width="1.2"/>
<polygon points="247.6,322.3 245.3,317.5 247.6,318.5 249.9,317.5" fill="#1010ff"/>
<path d="M196.8,212.2 C242.6,230.2 257.9,242.2 257.9,272.2 L257.9,454.5" fill="none" stroke="#a4a4ff" stroke-width="1.2"/>
<polygon points="257.9,322.3 255.6,317.5 257.9,318.5 260.2,317.5" fill="#1010ff"/>
<path d="M207.2,212.2 C252.9,230.2 268.2,242.2 268.2,272.2 L268.2,400 C268.2,425 275.0,440 278.0,454.5" fill="none" stroke="#a4a4ff" stroke-width="1.2"/>
<polygon points="268.2,314.3 265.9,309.5 268.2,310.5 270.5,309.5" fill="#1010ff"/>
<path d="M207.2,212.2 C260.7,230.2 278.5,242.2 278.5,272.2 L278.5,454.5" fill="none" stroke="#a4a4ff" stroke-width="1.2"/>
<polygon points="278.5,314.3 276.2,309.5 278.5,310.5 280.8,309.5" fill="#1010ff"/>
<line x1="90.3" y1="357.5" x2="84.8" y2="406.3" stroke="#a4a4ff" stroke-width="1.0"/>
<polygon points="88.0,381.0 86.3,376.0 88.4,377.2 90.8,376.5" fill="#1010ff"/>
<path d="M100.5,454.5 L100.5,400 C100.5,380 97,368 90.3,357.5" fill="none" stroke="#a4a4ff" stroke-width="1.0"/>
<polygon points="100.5,406.0 102.8,410.8 100.5,409.8 98.2,410.8" fill="#1010ff"/>
<line x1="84.8" y1="406.3" x2="80.4" y2="454.5" stroke="#a4a4ff" stroke-width="1.0"/>
<polygon points="82.9,429.5 81.0,424.5 83.2,425.7 85.6,424.9" fill="#1010ff"/>
<line x1="84.8" y1="406.3" x2="90.3" y2="454.5" stroke="#a4a4ff" stroke-width="1.0"/>
<polygon points="87.2,429.5 84.4,425.0 86.8,425.7 89.0,424.5" fill="#1010ff"/>
<line x1="84.8" y1="406.3" x2="100.5" y2="454.5" stroke="#a4a4ff" stroke-width="1.0"/>
<polygon points="91.7,429.5 88.0,425.7 90.5,425.9 92.4,424.2" fill="#1010ff"/>
<line x1="298.2" y1="406.2" x2="288.0" y2="454.5" stroke="#a4a4ff" stroke-width="1.0"/>
<polygon points="293.0,430.8 291.7,425.7 293.8,427.1 296.2,426.6" fill="#1010ff"/>
<line x1="298.2" y1="406.2" x2="298.2" y2="454.5" stroke="#a4a4ff" stroke-width="1.0"/>
<polygon points="298.2,430.8 295.9,426.0 298.2,427.0 300.5,426.0" fill="#1010ff"/>
<circle cx="24.4" cy="260.6" r="2.4" fill="#a01010"/>
<text transform="translate(27.4,261.8) rotate(-30)" font-family="Liberation Sans" font-size="4.4" font-weight="bold" fill="#333" stroke="#fff" stroke-width="0.7" paint-order="stroke">AngleShark</text>
<circle cx="34.6" cy="260.6" r="2.4" fill="#4a0e0e"/>
<text transform="translate(37.6,261.8) rotate(-30)" font-family="Liberation Sans" font-size="4.4" font-weight="bold" fill="#333" stroke="#fff" stroke-width="0.7" paint-order="stroke">ShellfishFreshCrabs</text>
<circle cx="44.9" cy="260.6" r="2.4" fill="#4a0e0e"/>
<text transform="translate(47.9,261.8) rotate(-30)" font-family="Liberation Sans" font-size="4.4" font-weight="bold" fill="#333" stroke="#fff" stroke-width="0.7" paint-order="stroke">LobFish</text>
<circle cx="54.7" cy="260.6" r="2.4" fill="#10ff10"/>
<text transform="translate(57.7,261.8) rotate(-30)" font-family="Liberation Sans" font-size="4.4" font-weight="bold" fill="#333" stroke="#fff" stroke-width="0.7" paint-order="stroke">Lizards</text>
<circle cx="64.9" cy="260.6" r="2.4" fill="#ffff00"/>
<text transform="translate(67.9,261.8) rotate(-30)" font-family="Liberation Sans" font-size="4.4" font-weight="bold" fill="#333" stroke="#fff" stroke-width="0.7" paint-order="stroke">Salamanders</text>
<circle cx="75.2" cy="260.6" r="2.4" fill="#ffff00"/>
<text transform="translate(78.2,261.8) rotate(-30)" font-family="Liberation Sans" font-size="4.4" font-weight="bold" fill="#333" stroke="#fff" stroke-width="0.7" paint-order="stroke">LizFrogs</text>
<circle cx="85.4" cy="260.6" r="2.4" fill="#ffff00"/>
<text transform="translate(88.4,261.8) rotate(-30)" font-family="Liberation Sans" font-size="4.4" font-weight="bold" fill="#333" stroke="#fff" stroke-width="0.7" paint-order="stroke">MudFrogs</text>
<circle cx="95.7" cy="260.6" r="2.4" fill="#ffff00"/>
<text transform="translate(98.7,261.8) rotate(-30)" font-family="Liberation Sans" font-size="4.4" font-weight="bold" fill="#333" stroke="#fff" stroke-width="0.7" paint-order="stroke">ToadFrogs</text>
<circle cx="105.7" cy="260.6" r="2.4" fill="#ffff00"/>
<text transform="translate(108.7,261.8) rotate(-30)" font-family="Liberation Sans" font-size="4.4" font-weight="bold" fill="#333" stroke="#fff" stroke-width="0.7" paint-order="stroke">Tadpoles</text>
<circle cx="115.7" cy="260.6" r="2.4" fill="#ffff00"/>
<text transform="translate(118.7,261.8) rotate(-30)" font-family="Liberation Sans" font-size="4.4" font-weight="bold" fill="#333" stroke="#fff" stroke-width="0.7" paint-order="stroke">Salamanders4</text>
<circle cx="136.0" cy="260.6" r="2.4" fill="#00ffff"/>
<text transform="translate(139.0,261.8) rotate(-30)" font-family="Liberation Sans" font-size="4.4" font-weight="bold" fill="#333" stroke="#fff" stroke-width="0.7" paint-order="stroke">Cetaceans</text>
<circle cx="156.0" cy="260.6" r="2.4" fill="#00ffff"/>
<text transform="translate(159.0,261.8) rotate(-30)" font-family="Liberation Sans" font-size="4.4" font-weight="bold" fill="#333" stroke="#fff" stroke-width="0.7" paint-order="stroke">WoodDuck</text>
<circle cx="166.2" cy="260.6" r="2.4" fill="#00ffff"/>
<text transform="translate(169.2,261.8) rotate(-30)" font-family="Liberation Sans" font-size="4.4" font-weight="bold" fill="#333" stroke="#fff" stroke-width="0.7" paint-order="stroke">Woodpeckers</text>
<circle cx="176.5" cy="260.6" r="2.4" fill="#004a00"/>
<text transform="translate(179.5,261.8) rotate(-30)" font-family="Liberation Sans" font-size="4.4" font-weight="bold" fill="#333" stroke="#fff" stroke-width="0.7" paint-order="stroke">Grouse</text>
<circle cx="186.7" cy="260.6" r="2.4" fill="#00ffff"/>
<text transform="translate(189.7,261.8) rotate(-30)" font-family="Liberation Sans" font-size="4.4" font-weight="bold" fill="#333" stroke="#fff" stroke-width="0.7" paint-order="stroke">Gull terns</text>
<circle cx="197.0" cy="260.6" r="2.4" fill="#00ffff"/>
<text transform="translate(200.0,261.8) rotate(-30)" font-family="Liberation Sans" font-size="4.4" font-weight="bold" fill="#333" stroke="#fff" stroke-width="0.7" paint-order="stroke">Egrets</text>
<circle cx="207.2" cy="260.6" r="2.4" fill="#00ffff"/>
<text transform="translate(210.2,261.8) rotate(-30)" font-family="Liberation Sans" font-size="4.4" font-weight="bold" fill="#333" stroke="#fff" stroke-width="0.7" paint-order="stroke">Ornithischians</text>
<circle cx="217.5" cy="260.6" r="2.4" fill="#00ffff"/>
<text transform="translate(220.5,261.8) rotate(-30)" font-family="Liberation Sans" font-size="4.4" font-weight="bold" fill="#333" stroke="#fff" stroke-width="0.7" paint-order="stroke">Wildfowl</text>
<circle cx="227.5" cy="260.6" r="2.4" fill="#004a00"/>
<text transform="translate(230.5,261.8) rotate(-30)" font-family="Liberation Sans" font-size="4.4" font-weight="bold" fill="#333" stroke="#fff" stroke-width="0.7" paint-order="stroke">Mice/Voles</text>
<circle cx="196.8" cy="212.2" r="2.4" fill="#00ffff"/>
<text transform="translate(199.8,213.4) rotate(-30)" font-family="Liberation Sans" font-size="4.4" font-weight="bold" fill="#333" stroke="#fff" stroke-width="0.7" paint-order="stroke">PinnipedsCarniv</text>
<circle cx="207.2" cy="212.2" r="2.4" fill="#00ffff"/>
<text transform="translate(210.2,213.4) rotate(-30)" font-family="Liberation Sans" font-size="4.4" font-weight="bold" fill="#333" stroke="#fff" stroke-width="0.7" paint-order="stroke">FurSealsPed</text>
<circle cx="125.8" cy="309.2" r="2.4" fill="#10ff10"/>
<text transform="translate(128.8,310.4) rotate(-30)" font-family="Liberation Sans" font-size="4.4" font-weight="bold" fill="#333" stroke="#fff" stroke-width="0.7" paint-order="stroke">Snakes</text>
<circle cx="90.3" cy="357.5" r="2.4" fill="#10ff10"/>
<text transform="translate(93.3,358.7) rotate(-30)" font-family="Liberation Sans" font-size="4.4" font-weight="bold" fill="#333" stroke="#fff" stroke-width="0.7" paint-order="stroke">Amphibians</text>
<circle cx="4.1" cy="309.2" r="2.4" fill="#a01010"/>
<text transform="translate(7.1,310.4) rotate(-30)" font-family="Liberation Sans" font-size="4.4" font-weight="bold" fill="#333" stroke="#fff" stroke-width="0.7" paint-order="stroke">Crayfish</text>
<circle cx="14.1" cy="309.2" r="2.4" fill="#10ff10"/>
<text transform="translate(17.1,310.4) rotate(-30)" font-family="Liberation Sans" font-size="4.4" font-weight="bold" fill="#333" stroke="#fff" stroke-width="0.7" paint-order="stroke">Turtle</text>
<circle cx="237.3" cy="309.2" r="2.4" fill="#004a00"/>
<text transform="translate(240.3,310.4) rotate(-30)" font-family="Liberation Sans" font-size="4.4" font-weight="bold" fill="#333" stroke="#fff" stroke-width="0.7" paint-order="stroke">Rabbits</text>
<circle cx="84.8" cy="406.3" r="2.4" fill="#ff10ff"/>
<text transform="translate(87.8,407.5) rotate(-30)" font-family="Liberation Sans" font-size="4.4" font-weight="bold" fill="#333" stroke="#fff" stroke-width="0.7" paint-order="stroke">Opossum</text>
<circle cx="298.2" cy="406.2" r="2.4" fill="#004a00"/>
<text transform="translate(301.2,407.4) rotate(-30)" font-family="Liberation Sans" font-size="4.4" font-weight="bold" fill="#333" stroke="#fff" stroke-width="0.7" paint-order="stroke">Squirrel</text>
<circle cx="80.4" cy="454.5" r="2.4" fill="#00ffff"/>
<text transform="translate(83.4,455.7) rotate(-30)" font-family="Liberation Sans" font-size="4.4" font-weight="bold" fill="#333" stroke="#fff" stroke-width="0.7" paint-order="stroke">UnderwaterFauna</text>
<circle cx="90.3" cy="454.5" r="2.4" fill="#004a00"/>
<text transform="translate(93.3,455.7) rotate(-30)" font-family="Liberation Sans" font-size="4.4" font-weight="bold" fill="#333" stroke="#fff" stroke-width="0.7" paint-order="stroke">Opossum</text>
<circle cx="100.5" cy="454.5" r="2.4" fill="#a01010"/>
<text transform="translate(103.5,455.7) rotate(-30)" font-family="Liberation Sans" font-size="4.4" font-weight="bold" fill="#333" stroke="#fff" stroke-width="0.7" paint-order="stroke">Tortoise</text>
<circle cx="257.8" cy="454.5" r="2.4" fill="#00ffff"/>
<text transform="translate(260.8,455.7) rotate(-30)" font-family="Liberation Sans" font-size="4.4" font-weight="bold" fill="#333" stroke="#fff" stroke-width="0.7" paint-order="stroke">Kites/Hawks</text>
<circle cx="278.0" cy="454.5" r="2.4" fill="#00ffff"/>
<text transform="translate(281.0,455.7) rotate(-30)" font-family="Liberation Sans" font-size="4.4" font-weight="bold" fill="#333" stroke="#fff" stroke-width="0.7" paint-order="stroke">Owls</text>
<circle cx="288.0" cy="454.5" r="2.4" fill="#004a00"/>
<text transform="translate(291.0,455.7) rotate(-30)" font-family="Liberation Sans" font-size="4.4" font-weight="bold" fill="#333" stroke="#fff" stroke-width="0.7" paint-order="stroke">Coyote</text>
<circle cx="298.2" cy="454.5" r="2.4" fill="#004a00"/>
<text transform="translate(301.2,455.7) rotate(-30)" font-family="Liberation Sans" font-size="4.4" font-weight="bold" fill="#333" stroke="#fff" stroke-width="0.7" paint-order="stroke">Bobcat</text>
<line x1="405.2" y1="209.2" x2="537.3" y2="330.9" stroke="#9c9cff" stroke-width="1"/>
<polygon points="471.2,270.0 467.3,268.7 469.0,268.0 469.6,266.2" fill="#1010ff"/>
<line x1="458.0" y1="209.2" x2="537.3" y2="330.9" stroke="#9c9cff" stroke-width="1"/>
<polygon points="497.6,270.0 494.2,267.8 496.0,267.5 497.0,265.9" fill="#1010ff"/>
<line x1="511.0" y1="209.2" x2="537.3" y2="330.9" stroke="#9c9cff" stroke-width="1"/>
<polygon points="524.1,270.0 521.7,266.7 523.5,267.1 525.0,266.0" fill="#1010ff"/>
<line x1="563.8" y1="209.2" x2="537.3" y2="330.9" stroke="#9c9cff" stroke-width="1"/>
<polygon points="550.5,270.0 549.7,266.0 551.2,267.1 553.0,266.7" fill="#1010ff"/>
<line x1="617.0" y1="209.2" x2="537.3" y2="330.9" stroke="#9c9cff" stroke-width="1"/>
<polygon points="577.1,270.0 577.8,265.9 578.8,267.5 580.7,267.8" fill="#1010ff"/>
<line x1="325.7" y1="330.9" x2="431.5" y2="452.8" stroke="#9c9cff" stroke-width="1"/>
<polygon points="378.6,391.8 374.8,390.1 376.6,389.6 377.4,387.8" fill="#1010ff"/>
<line x1="378.7" y1="330.9" x2="431.5" y2="452.8" stroke="#9c9cff" stroke-width="1"/>
<polygon points="405.1,391.8 402.0,389.0 403.9,389.1 405.1,387.7" fill="#1010ff"/>
<line x1="431.7" y1="330.9" x2="431.5" y2="452.8" stroke="#9c9cff" stroke-width="1"/>
<polygon points="431.6,391.8 429.9,388.0 431.6,388.8 433.3,388.0" fill="#1010ff"/>
<line x1="484.5" y1="330.9" x2="431.5" y2="452.8" stroke="#9c9cff" stroke-width="1"/>
<polygon points="458.0,391.8 458.0,387.7 459.2,389.1 461.1,389.0" fill="#1010ff"/>
<line x1="537.3" y1="330.9" x2="431.5" y2="452.8" stroke="#9c9cff" stroke-width="1"/>
<polygon points="484.4,391.8 485.6,387.8 486.4,389.6 488.2,390.1" fill="#1010ff"/>
<line x1="590.3" y1="330.9" x2="431.5" y2="452.8" stroke="#9c9cff" stroke-width="1"/>
<polygon points="510.9,391.8 512.9,388.2 513.3,390.0 514.9,390.9" fill="#1010ff"/>
<line x1="537.3" y1="330.9" x2="537.5" y2="452.8" stroke="#9c9cff" stroke-width="1"/>
<polygon points="537.4,391.8 535.7,388.0 537.4,388.8 539.1,388.0" fill="#1010ff"/>
<line x1="590.3" y1="330.9" x2="537.5" y2="452.8" stroke="#9c9cff" stroke-width="1"/>
<polygon points="563.9,391.8 563.9,387.7 565.1,389.1 567.0,389.0" fill="#1010ff"/>
<circle cx="405.2" cy="209.2" r="1.8" fill="#00ffff"/>
<text transform="translate(410.2,209.2) rotate(-30)" font-family="Liberation Sans" font-size="3.4" fill="#111">Old Boniers</text>
<circle cx="458.0" cy="209.2" r="1.8" fill="#00ffff"/>
<text transform="translate(463.0,209.2) rotate(-30)" font-family="Liberation Sans" font-size="3.4" fill="#111">Egrets</text>
<circle cx="511.0" cy="209.2" r="1.8" fill="#00ffff"/>
<text transform="translate(516.0,209.2) rotate(-30)" font-family="Liberation Sans" font-size="3.4" fill="#111">Ornithischians</text>
<circle cx="563.8" cy="209.2" r="1.8" fill="#00ffff"/>
<text transform="translate(568.8,209.2) rotate(-30)" font-family="Liberation Sans" font-size="3.4" fill="#111">Wildfowls</text>
<circle cx="617.0" cy="209.2" r="1.8" fill="#00ffff"/>
<text transform="translate(622.0,209.2) rotate(-30)" font-family="Liberation Sans" font-size="3.4" fill="#111">Whelks</text>
<ellipse cx="325.7" cy="330.9" rx="1.7" ry="1.9" fill="#004a00"/>
<text transform="translate(330.7,330.9) rotate(-30)" font-family="Liberation Sans" font-size="3.4" fill="#111">Aquatic</text>
<ellipse cx="378.7" cy="330.9" rx="1.7" ry="1.9" fill="#004a00"/>
<text transform="translate(383.7,330.9) rotate(-30)" font-family="Liberation Sans" font-size="3.4" fill="#111">Shrew/Mole</text>
<ellipse cx="431.7" cy="330.9" rx="1.7" ry="1.9" fill="#004a00"/>
<text transform="translate(436.7,330.9) rotate(-30)" font-family="Liberation Sans" font-size="3.4" fill="#111">Ground</text>
<ellipse cx="484.5" cy="330.9" rx="1.7" ry="1.9" fill="#004a00"/>
<text transform="translate(489.5,330.9) rotate(-30)" font-family="Liberation Sans" font-size="3.4" fill="#111">WoodpeckerBird</text>
<ellipse cx="537.3" cy="330.9" rx="1.7" ry="1.9" fill="#004a00"/>
<text transform="translate(542.3,330.9) rotate(-30)" font-family="Liberation Sans" font-size="3.4" fill="#111">Whips</text>
<ellipse cx="590.3" cy="330.9" rx="1.7" ry="1.9" fill="#004a00"/>
<text transform="translate(595.3,330.9) rotate(-30)" font-family="Liberation Sans" font-size="3.4" fill="#111">Armadillo</text>
<ellipse cx="431.5" cy="452.8" rx="1.7" ry="1.9" fill="#004a00"/>
<text transform="translate(436.5,452.8) rotate(-30)" font-family="Liberation Sans" font-size="3.4" fill="#111">Otter/Vole</text>
<ellipse cx="537.5" cy="452.8" rx="1.7" ry="1.9" fill="#004a00"/>
<text transform="translate(542.5,452.8) rotate(-30)" font-family="Liberation Sans" font-size="3.4" fill="#111">Bittern</text>
<rect x="305" y="4" width="5" height="147" fill="url(#turbo)"/>
<rect x="628" y="4" width="5" height="147" fill="url(#turbo)"/>
<line x1="305.3" y1="4" x2="305.3" y2="151" stroke="#303030" stroke-width="0.6"/>
<line x1="305" y1="150.8" x2="310" y2="150.8" stroke="#202020" stroke-width="0.8"/>
<text x="311" y="9.1" font-family="Liberation Sans" font-size="3.2" fill="#555">9</text>
<text x="311" y="26.9" font-family="Liberation Sans" font-size="3.2" fill="#555">8</text>
<text x="311" y="44.900000000000006" font-family="Liberation Sans" font-size="3.2" fill="#555">7</text>
<text x="311" y="62.7" font-family="Liberation Sans" font-size="3.2" fill="#555">6</text>
<text x="311" y="80.60000000000001" font-family="Liberation Sans" font-size="3.2" fill="#555">5</text>
<text x="311" y="98.60000000000001" font-family="Liberation Sans" font-size="3.2" fill="#555">4</text>
<text x="311" y="116.4" font-family="Liberation Sans" font-size="3.2" fill="#555">3</text>
<text x="311" y="134.39999999999998" font-family="Liberation Sans" font-size="3.2" fill="#555">2</text>
<text x="311" y="152.7" font-family="Liberation Sans" font-size="3.2" fill="#555">1</text>
<line x1="628.3" y1="4" x2="628.3" y2="151" stroke="#303030" stroke-width="0.6"/>
<line x1="628" y1="150.8" x2="633" y2="150.8" stroke="#202020" stroke-width="0.8"/>
<text x="634" y="9.1" font-family="Liberation Sans" font-size="3.2" fill="#555">9</text>
<text x="634" y="26.9" font-family="Liberation Sans" font-size="3.2" fill="#555">8</text>
<text x="634" y="44.900000000000006" font-family="Liberation Sans" font-size="3.2" fill="#555">7</text>
<text x="634" y="62.7" font-family="Liberation Sans" font-size="3.2" fill="#555">6</text>
<text x="634" y="80.60000000000001" font-family="Liberation Sans" font-size="3.2" fill="#555">5</text>
<text x="634" y="98.60000000000001" font-family="Liberation Sans" font-size="3.2" fill="#555">4</text>
<text x="634" y="116.4" font-family="Liberation Sans" font-size="3.2" fill="#555">3</text>
<text x="634" y="134.39999999999998" font-family="Liberation Sans" font-size="3.2" fill="#555">2</text>
<text x="634" y="152.7" font-family="Liberation Sans" font-size="3.2" fill="#555">1</text>
<text x="311" y="3" font-family="Liberation Sans" font-size="3" fill="#666">x10</text>
<text x="634" y="3" font-family="Liberation Sans" font-size="3" fill="#666">x10</text>
<text x="154.6" y="176.3" font-family="Liberation Serif" font-size="15.2" text-anchor="middle" fill="#000">(a)</text>
<text x="478" y="176.3" font-family="Liberation Serif" font-size="15.2" text-anchor="middle" fill="#000">(b)</text>
<text x="156.2" y="479.6" font-family="Liberation Serif" font-size="15.2" text-anchor="middle" fill="#000">(c)</text>
<text x="476.7" y="479.6" font-family="Liberation Serif" font-size="15.2" text-anchor="middle" fill="#000">(d)</text>
</svg></body></html>
